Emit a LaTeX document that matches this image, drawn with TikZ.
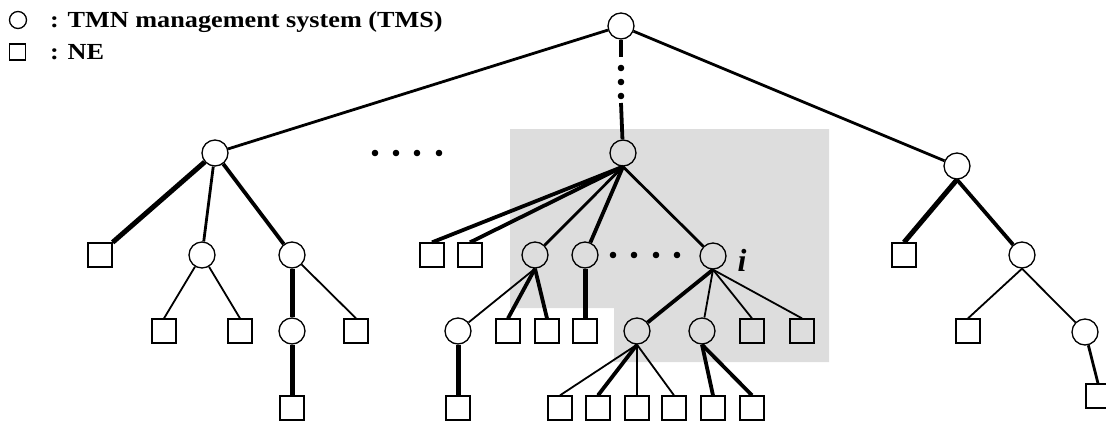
\documentclass[tikz,border=0pt]{standalone}
\usepackage{fontspec}
\setmainfont{Liberation Serif}
\definecolor{panelgray}{HTML}{DDDDDD}
\begin{document}
\begin{tikzpicture}[x=1pt,y=-1pt,
 tms/.style={circle,draw,line width=1.3pt,minimum size=26pt,inner sep=0pt},
 ne/.style={rectangle,draw,line width=1.3pt,minimum size=24pt,inner sep=0pt},
 wa/.style={line width=1.8pt},
 wb/.style={line width=2.8pt},
 wc/.style={line width=3.8pt},
 wd/.style={line width=5pt},
 legend/.style={font=\bfseries\fontsize{23}{27}\selectfont,anchor=base west,inner sep=0pt}
]
\useasboundingbox (0,0) rectangle (1106,421);
\fill[panelgray] (510,129) -- (829,129) -- (829,362) -- (614,362) -- (614,308) -- (510,308) -- cycle;

% legend
\node[tms,minimum size=17pt] (lgc) at (18,20) {};
\node[ne,minimum size=16pt] (lgs) at (17.5,52) {};
\node[legend] (lgt1) at (50,27.5) {\scalebox{1.14}[1]{: TMN management system (TMS)}};
\node[legend] (lgt2) at (50,59.5) {\scalebox{1.14}[1]{: NE}};

% top
\node[tms] (T) at (621,26) {};
\node[tms] (L) at (215,153) {};
\node[tms] (M) at (623,153) {};
\node[tms] (R) at (957,166) {};
\coordinate (v1) at (621,57);
\coordinate (v2) at (621,103);
\draw[wc] (T) -- (v1);
\draw[wc] (v2) -- (M);
\foreach \y in {68,82,96} \fill (621,\y) circle (3.3);
\foreach \x in {375,396,417,439} \fill (\x,153) circle (3.3);
\draw[wb] (T) -- (L);
\draw[wb] (T) -- (R);

% left subtree
\node[ne]  (LS1) at (100,255) {};
\node[tms] (L2)  at (202,255) {};
\node[tms] (L3)  at (292,255) {};
\node[ne]  (L2a) at (164,331) {};
\node[ne]  (L2b) at (240,331) {};
\node[tms] (L3a) at (292,331) {};
\node[ne]  (L3b) at (356,331) {};
\node[ne]  (L3c) at (292,408) {};
\draw[wd] (L) -- (LS1.north east);
\draw[wb] (L) -- (L2);
\draw[wc] (L) -- (L3);
\draw[wa] (L2) -- (L2a.north);
\draw[wa] (L2) -- (L2b.north);
\draw[wd] (L3) -- (L3a);
\draw[wa] (L3) -- (L3b.north);
\draw[wd] (L3a) -- (L3c);

% middle subtree
\node[ne]  (MS1) at (432,255) {};
\node[ne]  (MS2) at (470,255) {};
\node[tms] (M1)  at (535,255) {};
\node[tms] (M2)  at (585,255) {};
\node[tms] (Mi)  at (713,256) {};
\node[font=\bfseries\itshape\fontsize{32}{34}\selectfont,anchor=base,inner sep=0pt] (ilab) at (742,271) {i};
\foreach \x in {613,634,656,677} \fill (\x,255) circle (3.3);
\node[tms] (M1a) at (458,331) {};
\node[ne]  (M1b) at (508,331) {};
\node[ne]  (M1c) at (547,331) {};
\node[ne]  (M2a) at (585,331) {};
\node[tms] (Mi1) at (637,331) {};
\node[tms] (Mi2) at (702,331) {};
\node[ne]  (Mi3) at (752,331) {};
\node[ne]  (Mi4) at (802,331) {};
\node[ne]  (M1aa) at (458,408) {};
\node[ne]  (Q1) at (560,408) {};
\node[ne]  (Q2) at (598,408) {};
\node[ne]  (Q3) at (637,408) {};
\node[ne]  (Q4) at (674,408) {};
\node[ne]  (Q5) at (713,408) {};
\node[ne]  (Q6) at (752,408) {};

\draw[wc] (M.south) -- (MS1.north);
\draw[wc] (M.south) -- (MS2.north);
\draw[wb] (M.south) -- (M1);
\draw[wc] (M.south) -- (M2);
\draw[wb] (M.south) -- (Mi);
\draw[wa] (M1.south) -- (M1a);
\draw[wc] (M1.south) -- (M1b.north);
\draw[wc] (M1.south) -- (M1c.north);
\draw[wd] (M2) -- (M2a);
\draw[wd] (M1a) -- (M1aa);
\draw[wc] (Mi.south) -- (Mi1);
\draw[wa] (Mi.south) -- (Mi2);
\draw[wa] (Mi.south) -- (Mi3.north);
\draw[wa] (Mi.south) -- (Mi4.north);
\draw[wa] (Mi1.south) -- (Q1.north);
\draw[wc] (Mi1.south) -- (Q2.north);
\draw[wb] (Mi1.south) -- (Q3.north);
\draw[wa] (Mi1.south) -- (Q4.north);
\draw[wc] (Mi2.south) -- (Q5.north);
\draw[wc] (Mi2.south) -- (Q6.north);

% right subtree
\node[ne]  (RS1) at (904,255) {};
\node[tms] (R2)  at (1022,255) {};
\node[ne]  (R2a) at (968,331) {};
\node[tms] (R2b) at (1085,332) {};
\node[ne]  (R2c) at (1098,396) {};
\draw[wd] (R.south) -- (RS1.north);
\draw[wc] (R.south) -- (R2);
\draw[wa] (R2.south) -- (R2a.north);
\draw[wa] (R2.south) -- (R2b);
\draw[wb] (R2b) -- (R2c.north);
\end{tikzpicture}
\end{document}
